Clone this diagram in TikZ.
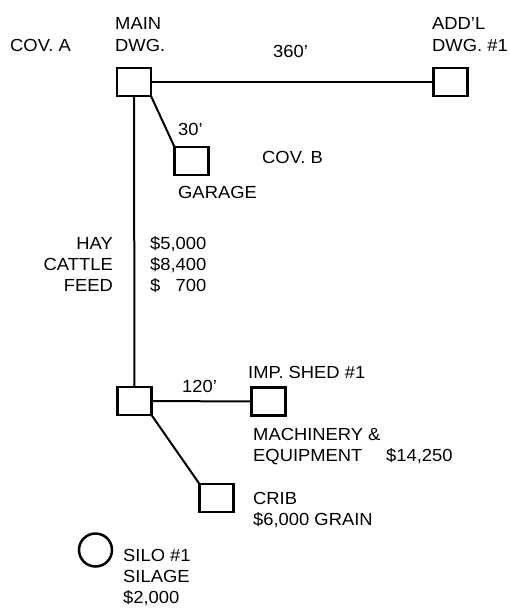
\documentclass[tikz,border=0pt]{standalone}
\usepackage{fontspec}
\setmainfont{Liberation Sans}[FakeStretch=1.05]
\begin{document}
\begin{tikzpicture}[x=1pt,y=-1pt,
  bldg/.style={draw,line width=2.5pt,minimum width=34pt,minimum height=28pt,inner sep=0pt,outer sep=0pt},
  silobox/.style={draw,circle,line width=2.5pt,minimum size=33pt,inner sep=0pt,outer sep=0pt},
  link/.style={line width=2pt},
  lbl/.style={inner sep=0pt,anchor=base west,font=\fontsize{17.5}{21}\selectfont},
  lblr/.style={inner sep=0pt,anchor=base east,font=\fontsize{17.5}{21}\selectfont}]
\useasboundingbox (0,0) rectangle (510,613);
% buildings
\node[bldg] (main) at (134,82) {};
\node[bldg] (addl) at (450.5,82) {};
\node[bldg] (garage) at (191.5,161) {};
\node[bldg] (lower) at (134.5,401) {};
\node[bldg] (shed) at (268.5,401.5) {};
\node[bldg] (crib) at (216.5,498) {};
\node[silobox] (silo) at (95.5,550) {};
% connectors
\draw[link] (main.east) -- (addl.west);
\draw[link] (main.south) -- (lower.north);
\draw[link] (main.south east) -- (garage.north west);
\draw[link] (lower.east) -- (shed.west);
\draw[link] (lower.south east) -- (crib.north west);
% labels
\node[lbl] (covA) at (10,51) {COV. A};
\node[lbl] (mainA) at (115,29) {MAIN};
\node[lbl] (mainB) at (115,51) {DWG.};
\node[lbl] (addlA) at (432,29) {ADD’L};
\node[lbl] (addlB) at (432,51) {DWG. \#1};
\node[lbl] (d360) at (273,57) {360’};
\node[lbl] (d30) at (178,135) {30’};
\node[lbl] (covB) at (262,163) {COV. B};
\node[lbl] (garlbl) at (178,198) {GARAGE};
\node[lblr] (hay) at (113,249) {HAY};
\node[lblr] (cattle) at (113,270) {CATTLE};
\node[lblr] (feed) at (113,291) {FEED};
\node[lbl] (hayv) at (150,249) {\$5,000};
\node[lbl] (cattlev) at (150,270) {\$8,400};
\node[lbl] (feedv) at (150,291) {\$\phantom{5,}700};
\node[lbl] (shedlbl) at (248,378) {IMP. SHED \#1};
\node[lbl] (d120) at (182,392) {120’};
\node[lbl] (machA) at (253,440) {MACHINERY \&};
\node[lbl] (machB) at (253,461) {EQUIPMENT};
\node[lbl] (machv) at (386,461) {\$14,250};
\node[lbl] (cribA) at (253,504) {CRIB};
\node[lbl] (cribB) at (253,525) {\$6,000 GRAIN};
\node[lbl] (siloA) at (123,561) {SILO \#1};
\node[lbl] (siloB) at (123,582) {SILAGE};
\node[lbl] (siloC) at (123,603) {\$2,000};
\end{tikzpicture}
\end{document}
